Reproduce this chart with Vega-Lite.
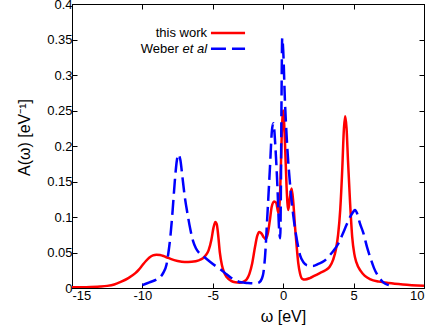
{
  "$schema": "https://vega.github.io/schema/vega-lite/v6.json",
  "width": 352,
  "height": 284,
  "autosize": {"type": "none"},
  "padding": {"left": 72, "top": 4, "right": 7, "bottom": 39},
  "background": "white",
  "config": {
    "view": {"stroke": "black", "strokeWidth": 1},
    "font": "Liberation Sans",
    "axis": {
      "grid": false,
      "domainColor": "black",
      "tickColor": "black",
      "labelColor": "black",
      "labelFont": "Liberation Sans",
      "labelFontSize": 13,
      "titleFont": "Liberation Sans",
      "titleFontSize": 16,
      "titleFontWeight": "normal",
      "titleColor": "black",
      "tickSize": -5
    }
  },
  "datasets": {
    "curves": [
      {"series": "this work", "w": -15, "A": 0.001},
      {"series": "this work", "w": -14, "A": 0.0012},
      {"series": "this work", "w": -13, "A": 0.002},
      {"series": "this work", "w": -12.5, "A": 0.003},
      {"series": "this work", "w": -12, "A": 0.005},
      {"series": "this work", "w": -11.5, "A": 0.009},
      {"series": "this work", "w": -11, "A": 0.014},
      {"series": "this work", "w": -10.5, "A": 0.021},
      {"series": "this work", "w": -10.25, "A": 0.026},
      {"series": "this work", "w": -10, "A": 0.032},
      {"series": "this work", "w": -9.75, "A": 0.038},
      {"series": "this work", "w": -9.5, "A": 0.043},
      {"series": "this work", "w": -9.25, "A": 0.046},
      {"series": "this work", "w": -9, "A": 0.047},
      {"series": "this work", "w": -8.75, "A": 0.0465},
      {"series": "this work", "w": -8.5, "A": 0.045},
      {"series": "this work", "w": -8.25, "A": 0.043},
      {"series": "this work", "w": -8, "A": 0.041},
      {"series": "this work", "w": -7.5, "A": 0.038},
      {"series": "this work", "w": -7, "A": 0.0365},
      {"series": "this work", "w": -6.5, "A": 0.037},
      {"series": "this work", "w": -6, "A": 0.039},
      {"series": "this work", "w": -5.7, "A": 0.042},
      {"series": "this work", "w": -5.5, "A": 0.046},
      {"series": "this work", "w": -5.3, "A": 0.053},
      {"series": "this work", "w": -5.1, "A": 0.068},
      {"series": "this work", "w": -4.95, "A": 0.085},
      {"series": "this work", "w": -4.82, "A": 0.093},
      {"series": "this work", "w": -4.72, "A": 0.09},
      {"series": "this work", "w": -4.62, "A": 0.075},
      {"series": "this work", "w": -4.5, "A": 0.05},
      {"series": "this work", "w": -4.35, "A": 0.032},
      {"series": "this work", "w": -4.2, "A": 0.022},
      {"series": "this work", "w": -4, "A": 0.015},
      {"series": "this work", "w": -3.7, "A": 0.01},
      {"series": "this work", "w": -3.4, "A": 0.008},
      {"series": "this work", "w": -3.1, "A": 0.0075},
      {"series": "this work", "w": -2.8, "A": 0.009},
      {"series": "this work", "w": -2.6, "A": 0.012},
      {"series": "this work", "w": -2.4, "A": 0.02},
      {"series": "this work", "w": -2.2, "A": 0.035},
      {"series": "this work", "w": -2.0, "A": 0.058},
      {"series": "this work", "w": -1.85, "A": 0.073},
      {"series": "this work", "w": -1.7, "A": 0.079},
      {"series": "this work", "w": -1.55, "A": 0.077},
      {"series": "this work", "w": -1.4, "A": 0.072},
      {"series": "this work", "w": -1.25, "A": 0.069},
      {"series": "this work", "w": -1.1, "A": 0.076},
      {"series": "this work", "w": -0.95, "A": 0.095},
      {"series": "this work", "w": -0.82, "A": 0.114},
      {"series": "this work", "w": -0.65, "A": 0.122},
      {"series": "this work", "w": -0.5, "A": 0.12},
      {"series": "this work", "w": -0.33, "A": 0.105},
      {"series": "this work", "w": -0.21, "A": 0.14},
      {"series": "this work", "w": -0.1, "A": 0.218},
      {"series": "this work", "w": 0.0, "A": 0.25},
      {"series": "this work", "w": 0.12, "A": 0.208},
      {"series": "this work", "w": 0.24, "A": 0.142},
      {"series": "this work", "w": 0.36, "A": 0.11},
      {"series": "this work", "w": 0.48, "A": 0.128},
      {"series": "this work", "w": 0.6, "A": 0.14},
      {"series": "this work", "w": 0.72, "A": 0.12},
      {"series": "this work", "w": 0.84, "A": 0.086},
      {"series": "this work", "w": 0.95, "A": 0.06},
      {"series": "this work", "w": 1.07, "A": 0.035},
      {"series": "this work", "w": 1.2, "A": 0.02},
      {"series": "this work", "w": 1.35, "A": 0.013},
      {"series": "this work", "w": 1.55, "A": 0.012},
      {"series": "this work", "w": 1.9, "A": 0.014},
      {"series": "this work", "w": 2.2, "A": 0.017},
      {"series": "this work", "w": 2.6, "A": 0.021},
      {"series": "this work", "w": 3.0, "A": 0.025},
      {"series": "this work", "w": 3.3, "A": 0.03},
      {"series": "this work", "w": 3.55, "A": 0.04},
      {"series": "this work", "w": 3.75, "A": 0.055},
      {"series": "this work", "w": 3.9, "A": 0.075},
      {"series": "this work", "w": 4.05, "A": 0.11},
      {"series": "this work", "w": 4.2, "A": 0.17},
      {"series": "this work", "w": 4.3, "A": 0.22},
      {"series": "this work", "w": 4.4, "A": 0.242},
      {"series": "this work", "w": 4.5, "A": 0.225},
      {"series": "this work", "w": 4.6, "A": 0.18},
      {"series": "this work", "w": 4.75, "A": 0.12},
      {"series": "this work", "w": 4.9, "A": 0.072},
      {"series": "this work", "w": 5.05, "A": 0.048},
      {"series": "this work", "w": 5.2, "A": 0.036},
      {"series": "this work", "w": 5.5, "A": 0.024},
      {"series": "this work", "w": 5.8, "A": 0.017},
      {"series": "this work", "w": 6.2, "A": 0.012},
      {"series": "this work", "w": 6.8, "A": 0.009},
      {"series": "this work", "w": 7.5, "A": 0.007},
      {"series": "this work", "w": 8.5, "A": 0.005},
      {"series": "this work", "w": 10, "A": 0.003},
      {"series": "Weber et al", "w": -10, "A": 0.004},
      {"series": "Weber et al", "w": -9.5, "A": 0.008},
      {"series": "Weber et al", "w": -9, "A": 0.012},
      {"series": "Weber et al", "w": -8.7, "A": 0.016},
      {"series": "Weber et al", "w": -8.5, "A": 0.022},
      {"series": "Weber et al", "w": -8.3, "A": 0.032},
      {"series": "Weber et al", "w": -8.15, "A": 0.05},
      {"series": "Weber et al", "w": -8.0, "A": 0.075},
      {"series": "Weber et al", "w": -7.85, "A": 0.11},
      {"series": "Weber et al", "w": -7.7, "A": 0.15},
      {"series": "Weber et al", "w": -7.55, "A": 0.18},
      {"series": "Weber et al", "w": -7.45, "A": 0.188},
      {"series": "Weber et al", "w": -7.3, "A": 0.18},
      {"series": "Weber et al", "w": -7.15, "A": 0.155},
      {"series": "Weber et al", "w": -7.0, "A": 0.13},
      {"series": "Weber et al", "w": -6.8, "A": 0.105},
      {"series": "Weber et al", "w": -6.6, "A": 0.083},
      {"series": "Weber et al", "w": -6.4, "A": 0.066},
      {"series": "Weber et al", "w": -6.2, "A": 0.056},
      {"series": "Weber et al", "w": -5.9, "A": 0.048},
      {"series": "Weber et al", "w": -5.5, "A": 0.042},
      {"series": "Weber et al", "w": -5.2, "A": 0.037},
      {"series": "Weber et al", "w": -4.8, "A": 0.031},
      {"series": "Weber et al", "w": -4.5, "A": 0.027},
      {"series": "Weber et al", "w": -4.0, "A": 0.019},
      {"series": "Weber et al", "w": -3.6, "A": 0.013},
      {"series": "Weber et al", "w": -3.3, "A": 0.01},
      {"series": "Weber et al", "w": -3.0, "A": 0.008},
      {"series": "Weber et al", "w": -2.5, "A": 0.007},
      {"series": "Weber et al", "w": -2.0, "A": 0.0065},
      {"series": "Weber et al", "w": -1.7, "A": 0.008},
      {"series": "Weber et al", "w": -1.52, "A": 0.013},
      {"series": "Weber et al", "w": -1.41, "A": 0.021},
      {"series": "Weber et al", "w": -1.29, "A": 0.044},
      {"series": "Weber et al", "w": -1.13, "A": 0.1},
      {"series": "Weber et al", "w": -0.94, "A": 0.17},
      {"series": "Weber et al", "w": -0.8, "A": 0.222},
      {"series": "Weber et al", "w": -0.7, "A": 0.232},
      {"series": "Weber et al", "w": -0.54, "A": 0.194},
      {"series": "Weber et al", "w": -0.4, "A": 0.138},
      {"series": "Weber et al", "w": -0.3, "A": 0.086},
      {"series": "Weber et al", "w": -0.21, "A": 0.07},
      {"series": "Weber et al", "w": -0.17, "A": 0.124},
      {"series": "Weber et al", "w": -0.12, "A": 0.265},
      {"series": "Weber et al", "w": -0.07, "A": 0.352},
      {"series": "Weber et al", "w": 0.0, "A": 0.335},
      {"series": "Weber et al", "w": 0.12, "A": 0.265},
      {"series": "Weber et al", "w": 0.26, "A": 0.208},
      {"series": "Weber et al", "w": 0.5, "A": 0.143},
      {"series": "Weber et al", "w": 0.73, "A": 0.1},
      {"series": "Weber et al", "w": 0.97, "A": 0.068},
      {"series": "Weber et al", "w": 1.2, "A": 0.046},
      {"series": "Weber et al", "w": 1.45, "A": 0.036},
      {"series": "Weber et al", "w": 1.7, "A": 0.032},
      {"series": "Weber et al", "w": 2.1, "A": 0.031},
      {"series": "Weber et al", "w": 2.5, "A": 0.034},
      {"series": "Weber et al", "w": 2.9, "A": 0.038},
      {"series": "Weber et al", "w": 3.3, "A": 0.046},
      {"series": "Weber et al", "w": 3.6, "A": 0.053},
      {"series": "Weber et al", "w": 3.9, "A": 0.062},
      {"series": "Weber et al", "w": 4.2, "A": 0.075},
      {"series": "Weber et al", "w": 4.5, "A": 0.089},
      {"series": "Weber et al", "w": 4.75, "A": 0.1},
      {"series": "Weber et al", "w": 5.0, "A": 0.108},
      {"series": "Weber et al", "w": 5.1, "A": 0.11},
      {"series": "Weber et al", "w": 5.25, "A": 0.105},
      {"series": "Weber et al", "w": 5.45, "A": 0.091},
      {"series": "Weber et al", "w": 5.7, "A": 0.077},
      {"series": "Weber et al", "w": 5.95, "A": 0.058},
      {"series": "Weber et al", "w": 6.2, "A": 0.042},
      {"series": "Weber et al", "w": 6.45, "A": 0.028},
      {"series": "Weber et al", "w": 6.7, "A": 0.018},
      {"series": "Weber et al", "w": 7.0, "A": 0.01},
      {"series": "Weber et al", "w": 7.25, "A": 0.006},
      {"series": "Weber et al", "w": 7.5, "A": 0.004}
    ]
  },
  "layer": [
    {
      "data": {"name": "curves"},
      "transform": [{"filter": "datum.series === 'this work'"}],
      "mark": {"type": "line", "color": "#ff0000", "strokeWidth": 2.5, "interpolate": "monotone", "clip": true},
      "encoding": {
        "x": {
          "field": "w", "type": "quantitative",
          "scale": {"domain": [-15, 10], "nice": false, "zero": false},
          "axis": {"orient": "bottom", "title": "ω [eV]", "titleX": 211, "values": [-15, -10, -5, 0, 5, 10], "labelExpr": "'' + datum.value", "labelPadding": 6, "titlePadding": 6}
        },
        "y": {
          "field": "A", "type": "quantitative",
          "scale": {"domain": [0, 0.4], "nice": false},
          "axis": {"orient": "left", "title": "A(ω) [eV⁻¹]", "titleY": 133, "values": [0, 0.05, 0.1, 0.15, 0.2, 0.25, 0.3, 0.35, 0.4], "format": "~g", "labelPadding": 5, "titlePadding": 14}
        }
      }
    },
    {
      "data": {"name": "curves"},
      "transform": [{"filter": "datum.series === 'Weber et al'"}],
      "mark": {"type": "line", "color": "#0000ff", "strokeWidth": 2.5, "strokeDash": [15, 6], "interpolate": "monotone", "clip": true},
      "encoding": {
        "x": {
          "field": "w", "type": "quantitative",
          "axis": {"orient": "top", "title": null, "labels": false, "values": [-15, -10, -5, 0, 5, 10]}
        },
        "y": {
          "field": "A", "type": "quantitative",
          "axis": {"orient": "right", "title": null, "labels": false, "values": [0, 0.05, 0.1, 0.15, 0.2, 0.25, 0.3, 0.35, 0.4]}
        }
      }
    },
    {
      "data": {"values": [{}]},
      "mark": {"type": "text", "align": "right", "baseline": "middle", "font": "Liberation Sans", "fontSize": 13, "color": "black"},
      "encoding": {
        "x": {"datum": -5.41, "type": "quantitative", "axis": null},
        "y": {"datum": 0.359, "type": "quantitative", "axis": null},
        "text": {"value": "this work"}
      }
    },
    {
      "data": {"values": [{}]},
      "mark": {"type": "text", "align": "right", "baseline": "middle", "font": "Liberation Sans", "fontSize": 13, "fontStyle": "italic", "color": "black"},
      "encoding": {
        "x": {"datum": -5.41, "type": "quantitative", "axis": null},
        "y": {"datum": 0.337, "type": "quantitative", "axis": null},
        "text": {"value": "et al"}
      }
    },
    {
      "data": {"values": [{}]},
      "mark": {"type": "text", "align": "right", "baseline": "middle", "font": "Liberation Sans", "fontSize": 13, "color": "black"},
      "encoding": {
        "x": {"datum": -7.41, "type": "quantitative", "axis": null},
        "y": {"datum": 0.337, "type": "quantitative", "axis": null},
        "text": {"value": "Weber"}
      }
    },
    {
      "data": {"values": [{}]},
      "mark": {"type": "rule", "color": "#ff0000", "strokeWidth": 2.5},
      "encoding": {
        "x": {"datum": -5.13, "type": "quantitative", "axis": null},
        "x2": {"datum": -2.71},
        "y": {"datum": 0.359, "type": "quantitative", "axis": null}
      }
    },
    {
      "data": {"values": [{}]},
      "mark": {"type": "rule", "color": "#0000ff", "strokeWidth": 2.5, "strokeDash": [15, 6]},
      "encoding": {
        "x": {"datum": -5.13, "type": "quantitative", "axis": null},
        "x2": {"datum": -2.71},
        "y": {"datum": 0.337, "type": "quantitative", "axis": null}
      }
    }
  ]
}
